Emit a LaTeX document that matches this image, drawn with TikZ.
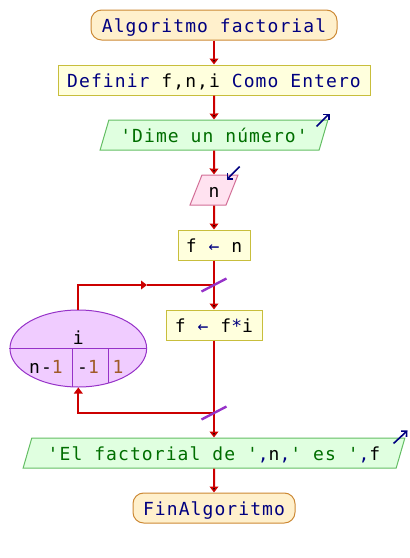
\documentclass[tikz,border=0pt]{standalone}
\usepackage{fontspec}
\usetikzlibrary{shapes.geometric,arrows.meta}
\newfontfamily\codefont[LetterSpace=6]{DejaVu Sans Mono}
\definecolor{termfill}{RGB}{255,240,204}
\definecolor{termdraw}{RGB}{204,136,51}
\definecolor{procfill}{RGB}{255,255,221}
\definecolor{procdraw}{RGB}{200,190,60}
\definecolor{outfill}{RGB}{224,255,224}
\definecolor{outdraw}{RGB}{100,190,100}
\definecolor{infill}{RGB}{255,226,240}
\definecolor{indraw}{RGB}{210,110,150}
\definecolor{loopfill}{RGB}{240,204,255}
\definecolor{loopdraw}{RGB}{150,50,200}
\definecolor{flowred}{RGB}{204,0,0}
\definecolor{kw}{RGB}{0,0,128}
\definecolor{strc}{RGB}{0,110,0}
\definecolor{numc}{RGB}{160,90,40}
\newcommand{\kw}[1]{\textcolor{kw}{#1}}
\newcommand{\str}[1]{\textcolor{strc}{#1}}
\newcommand{\num}[1]{\textcolor{numc}{#1}}
\tikzset{
    every node/.style={font=\codefont\fontsize{13.5pt}{16pt}\selectfont},
    box/.style={minimum height=22.5pt, inner sep=2pt, text height=12pt, text depth=1.5pt, line width=0.75pt},
    termbox/.style={box, draw=termdraw, fill=termfill, rounded corners=8pt},
    procbox/.style={box, draw=procdraw, fill=procfill},
    iobox/.style={box, trapezium, trapezium left angle=71, trapezium right angle=109,
        trapezium stretches=true},
    outbox/.style={iobox, draw=outdraw, fill=outfill},
    inbox/.style={iobox, draw=indraw, fill=infill},
    loopbox/.style={ellipse, draw=loopdraw, fill=loopfill, line width=0.75pt,
        minimum width=102.5pt, minimum height=57.75pt, inner sep=0pt},
    flowline/.style={draw=flowred, line width=1.5pt},
    flow/.style={flowline, -{Triangle[width=6.5pt,length=4.5pt]}},
    slash/.style={draw=loopdraw, line width=1.8pt},
    ioarrow/.style={draw=kw, line width=1.2pt, -{Straight Barb[width=6pt,length=3pt]}}
}
\begin{document}
\begin{tikzpicture}[x=0.75pt,y=-0.75pt]
    \useasboundingbox (0,0) rectangle (410,558);

    \node[termbox, minimum width=184.5pt] (start) at (214,25) {\kw{Algoritmo factorial}};
    \node[procbox, minimum width=234pt] (defs) at (214,80) {\kw{Definir} f,n,i \kw{Como Entero}};
    \node[outbox, minimum width=171pt] (ask) at (214,135) {\str{'Dime un número'}};
    \node[inbox, minimum width=36pt] (read) at (214,190) {n};
    \node[procbox, minimum width=54pt] (fn) at (214,245) {f \kw{←} n};
    \node[procbox, minimum width=72pt] (body) at (214,325) {f \kw{←} f\kw{*}i};
    \node[outbox, minimum width=287.25pt] (show) at (214,453)
        {\str{'El factorial de '}\kw{,}n\kw{,}\str{' es '}\kw{,}f};
    \node[termbox, minimum width=121.5pt] (stop) at (214,508) {\kw{FinAlgoritmo}};

    \node[loopbox] (loop) at (78.3,348.5) {};
    \node[anchor=base] (loopvar) at (78.3,344) {i};
    \node[anchor=base] (loopfrom) at (46,373) {n-\num{1}};
    \node[anchor=base] (loopstep) at (88,373) {-\num{1}};
    \node[anchor=base] (loopto) at (118,373) {\num{1}};
    \draw[draw=loopdraw, line width=0.75pt] (loop.west) -- (loop.east);
    \draw[draw=loopdraw, line width=0.75pt] (72.7,348.5) -- (72.7,386.9);
    \draw[draw=loopdraw, line width=0.75pt] (108,348.5) -- (108,383.2);

    \coordinate (jtop) at (214,285);
    \coordinate (jmid) at (147,285);
    \coordinate (jbot) at (214,413);

    \path[flow] (start) edge (defs);
    \path[flow] (defs) edge (ask);
    \path[flow] (ask) edge (read);
    \path[flow] (read) edge (fn);
    \path[flow] (fn) edge (body);
    \path[flow] (body) edge (show);
    \path[flow] (show) edge (stop);
    \draw[flow] (loop.north) |- (jmid);
    \draw[flowline] (jmid) -- (jtop);
    \draw[flow] (jbot) -| (loop.south);

    \draw[slash] ([shift={(-12.5,6.5)}]jtop) -- ([shift={(12.5,-6.5)}]jtop);
    \draw[slash] ([shift={(-12.5,6.5)}]jbot) -- ([shift={(12.5,-6.5)}]jbot);

    \draw[ioarrow] ([shift={(-12,7)}]ask.top right corner) -- ([shift={(1,-6)}]ask.top right corner);
    \draw[ioarrow] ([shift={(1,-8)}]read.top right corner) -- ([shift={(-12,5)}]read.top right corner);
    \draw[ioarrow] ([shift={(-12,6)}]show.top right corner) -- ([shift={(2,-7)}]show.top right corner);
\end{tikzpicture}
\end{document}
